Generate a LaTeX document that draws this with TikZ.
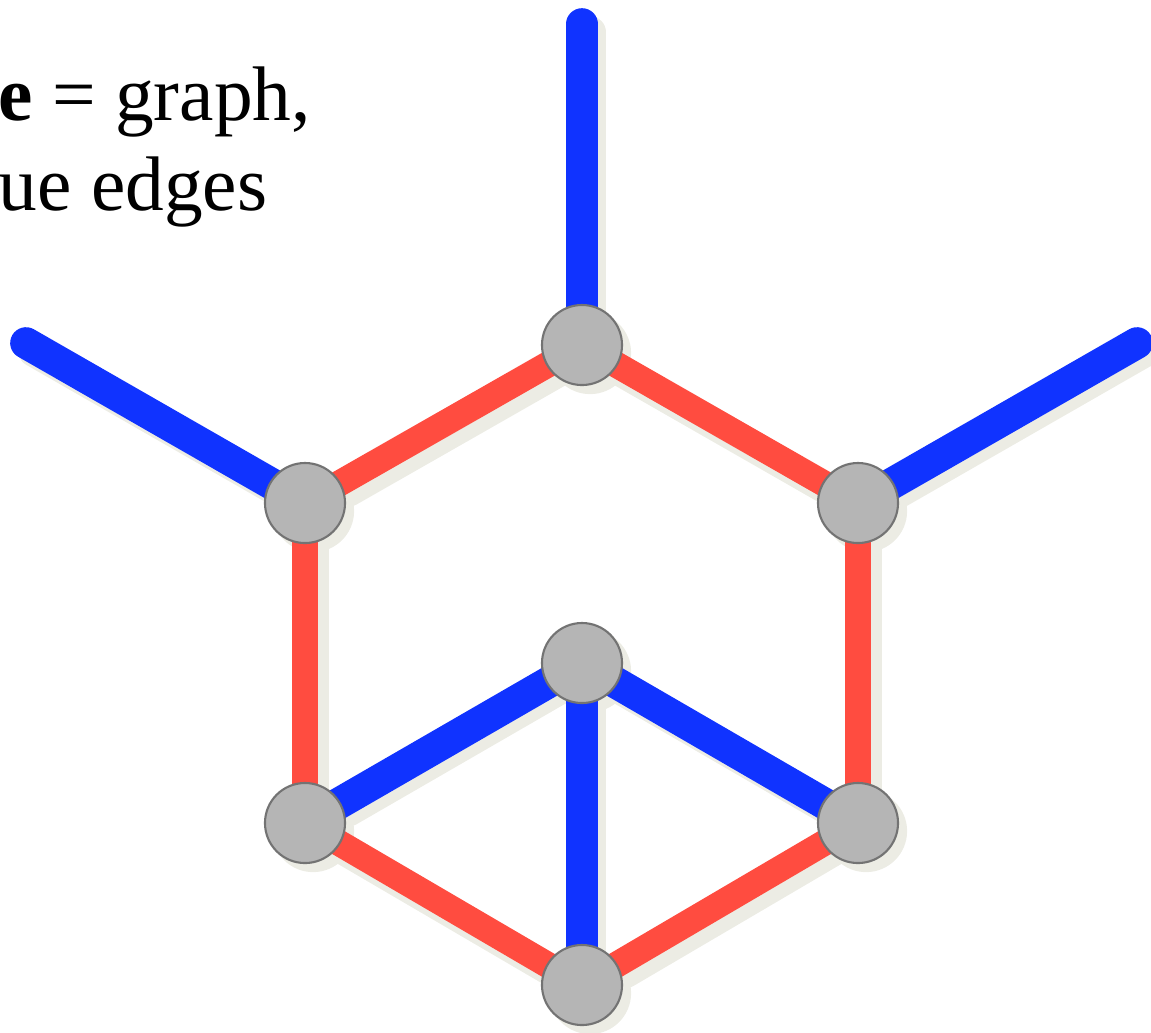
\documentclass[tikz,border=0pt]{standalone}
\usepackage{fontspec}
\setmainfont{Liberation Serif}
\usetikzlibrary{positioning}

\definecolor{edgeblue}{RGB}{16,51,255}
\definecolor{edgered}{RGB}{255,76,64}
\definecolor{vertgray}{RGB}{181,181,181}
\definecolor{shadecol}{RGB}{236,236,228}

\pgfdeclarelayer{shadow}
\pgfdeclarelayer{edges}
\pgfsetlayers{shadow,edges,main}

\begin{document}
\begin{tikzpicture}[
  x=0.01cm, y=-0.01cm,
  caption/.style={font=\fontsize{22}{26}\selectfont, inner sep=0pt, anchor=base west},
  vert/.style={circle, draw=black!55, line width=0.6pt, fill=vertgray, minimum size=0.8cm, inner sep=0pt},
  blueedge/.style={draw=edgeblue, line width=9pt, line cap=round},
  rededge/.style={draw=edgered, line width=7.4pt, line cap=round},
  shadowedge/.style={draw=shadecol, line width=9pt, line cap=round,
    transform canvas={xshift=2.3pt, yshift=-2.3pt}}
]
\useasboundingbox (0,0) rectangle (1151,1032);

% caption
\node[caption] (cap1) at (-2,120) {\textbf{e} = graph,};
\node[caption] (cap2) at (-2,210) {ue edges};

% vertices
\node[vert] (T)  at (582,345) {};
\node[vert] (L)  at (305,503) {};
\node[vert] (R)  at (858,503) {};
\node[vert] (C)  at (582,663) {};
\node[vert] (BL) at (305,823) {};
\node[vert] (BR) at (858,823) {};
\node[vert] (B)  at (582,985) {};

% loose ends
\coordinate (topend)   at (582,24);
\coordinate (leftend)  at (26,343);
\coordinate (rightend) at (1137,343);

% soft shadow
\begin{pgfonlayer}{shadow}
  \foreach \a/\b in {T/topend, L/leftend, R/rightend, T/L, T/R, L/BL, R/BR,
                     BL/B, BR/B, C/BL, C/BR, C/B}
    \draw[shadowedge] (\a.center) -- (\b);
  \foreach \v in {T,L,R,C,BL,BR,B}
    \fill[shadecol, transform canvas={xshift=2.3pt, yshift=-2.3pt}] (\v.center) circle (0.41cm);
\end{pgfonlayer}

% edges
\begin{pgfonlayer}{edges}
  \foreach \a/\b in {T/L, T/R, L/BL, R/BR, BL/B, BR/B}
    \draw[rededge] (\a.center) -- (\b.center);
  \foreach \a/\b in {C/BL, C/BR, C/B}
    \draw[blueedge] (\a.center) -- (\b.center);
  \draw[blueedge] (T.center) -- (topend);
  \draw[blueedge] (L.center) -- (leftend);
  \draw[blueedge] (R.center) -- (rightend);
\end{pgfonlayer}
\end{tikzpicture}
\end{document}
